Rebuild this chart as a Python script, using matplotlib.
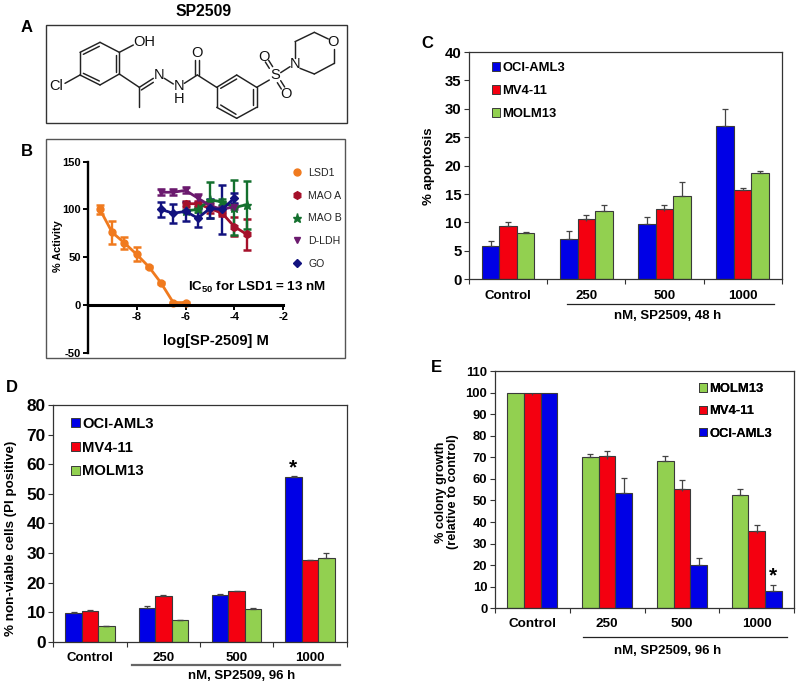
import matplotlib
matplotlib.use("Agg")
import matplotlib.pyplot as plt
from matplotlib.patches import Patch, Rectangle
from matplotlib.lines import Line2D

plt.rcParams['font.family'] = ['Liberation Sans', 'DejaVu Sans']
plt.rcParams['mathtext.fontset'] = 'custom'
plt.rcParams['mathtext.bf'] = 'Liberation Sans:bold'
plt.rcParams['mathtext.rm'] = 'Liberation Sans'
plt.rcParams['axes.unicode_minus'] = False

# ---------- data ----------
groups = ["Control", "250", "500", "1000"]

c_oci = [5.8, 7.1, 9.8, 27.0]
c_oci_err = [1.0, 1.4, 1.1, 3.0]
c_mv4 = [9.3, 10.6, 12.4, 15.8]
c_mv4_err = [0.7, 0.8, 0.7, 0.2]
c_mv4_low = [0, 0.4, 0.4, 0]
c_mol = [8.2, 12.1, 14.7, 18.7]
c_mol_err = [0.2, 1.0, 2.5, 0.4]

d_oci = [9.8, 11.5, 15.8, 55.5]
d_oci_err = [0.4, 0.7, 0.3, 0.5]
d_mv4 = [10.5, 15.6, 17.0, 27.5]
d_mv4_err = [0.1, 0.1, 0.1, 0.1]
d_mol = [5.2, 7.3, 11.2, 28.4]
d_mol_err = [0.2, 0.2, 0.1, 1.5]

e_mol = [100, 70.0, 68.5, 52.3]
e_mol_err = [0, 1.3, 2.0, 2.8]
e_mv4 = [100, 70.5, 55.5, 36.0]
e_mv4_err = [0, 2.3, 4.0, 2.7]
e_mv4_low = [1.3, 1.2, 1.2, 1.2]
e_oci = [100, 53.3, 20.0, 8.2]
e_oci_err = [0, 7.0, 3.5, 2.5]

lsd1_x = [-9.5, -9, -8.5, -8, -7.5, -7, -6.5, -6]
lsd1_y = [100, 76, 65, 53, 40, 23, 2.5, 2.5]
lsd1_e = [5, 12, 6, 7.5, 1, 1, 1, 1]
maoa_x = [-6, -5.5, -5, -4.5, -4, -3.5]
maoa_y = [106, 106, 101, 96, 82, 74]
maoa_e = [3, 3, 5, 3, 10, 16]
maob_x = [-6, -5.5, -5, -4.5, -4, -3.5]
maob_y = [98.5, 100, 110, 108, 102, 105]
maob_e = [1, 3, 19, 3, 29, 25]
dldh_x = [-7, -6.5, -6, -5.5, -5, -4.5, -4]
dldh_y = [118, 118, 120, 112, 104, 100, 103]
dldh_e = [3, 3, 3, 4, 4, 4, 3]
go_x = [-7, -6.5, -6, -5.5, -5, -4.5, -4]
go_y = [100, 96, 98, 91, 101, 100, 112]
go_e = [8, 10, 10, 9, 10, 26, 5]

BLUE, RED, GREEN = "#0000e6", "#f40010", "#92d050"
EDGE = "#3a3a3a"

W, H = 800, 687
fig = plt.figure(figsize=(W / 100, H / 100), dpi=100, facecolor="white")


def ax_px(l, t, r, b, **kw):
    return fig.add_axes([l / W, 1 - b / H, (r - l) / W, (b - t) / H], **kw)


ov = fig.add_axes([0, 0, 1, 1], zorder=10)
ov.set_xlim(0, W)
ov.set_ylim(H, 0)
ov.axis("off")
ov.patch.set_alpha(0)


def label(x, y, s, size=9.5, weight="bold", ha="center", va="center", **kw):
    ov.text(x, y, s, fontsize=size, fontweight=weight, ha=ha, va=va, **kw)


# ---------- panel letters ----------
label(204, 11, "SP2509", 11.3)
for s, x, y in [("A", 27, 27), ("B", 27, 152), ("C", 427, 44), ("D", 12, 387), ("E", 436, 368)]:
    label(x, y, s, 12)

# ---------- panel A: structure (zoomed pixel positions / 3) ----------
ov.add_patch(Rectangle((46, 25), 301, 98, fc="none", ec="#333333", lw=1))
ov.add_patch(Rectangle((46, 139), 299, 219, fc="none", ec="#555555", lw=1))

bonds = [
    # ring 1
    ((240, 157), (300, 127)), ((300, 127), (358, 157)), ((358, 157), (358, 222)),
    ((358, 222), (300, 255)), ((300, 255), (240, 225)), ((240, 225), (240, 157)),
    ((250, 163), (298, 139)), ((347, 165), (347, 215)), ((298, 243), (250, 220)),
    ((358, 157), (400, 135)), ((240, 225), (195, 250)),
    # hydrazone
    ((358, 222), (418, 262)), ((418, 262), (418, 322)),
    ((418, 262), (460, 235)), ((424, 270), (460, 247)),
    ((493, 235), (520, 252)), ((553, 250), (592, 225)),
    # carbonyl
    ((586, 225), (586, 180)), ((598, 225), (598, 180)),
    ((592, 225), (650, 262)),
    # ring 2
    ((650, 262), (710, 225)), ((710, 225), (770, 262)), ((770, 262), (770, 322)),
    ((770, 322), (710, 355)), ((710, 355), (650, 322)), ((650, 322), (650, 262)),
    ((662, 265), (710, 237)), ((758, 315), (758, 268)), ((708, 343), (662, 315)),
    # sulfonyl
    ((770, 262), (808, 240)), ((808, 205), (796, 186)), ((818, 200), (806, 181)),
    ((832, 248), (844, 267)), ((842, 242), (854, 261)), ((842, 218), (870, 200)),
    # morpholine
    ((885, 175), (885, 125)), ((885, 125), (943, 97)), ((943, 97), (985, 117)),
    ((1003, 147), (1003, 190)), ((1003, 190), (943, 222)), ((943, 222), (900, 205)),
]
for (x0, y0), (x1, y1) in bonds:
    ov.plot([x0 / 3, x1 / 3], [y0 / 3, y1 / 3], color="#222222", lw=1.05, solid_capstyle="round")
atoms = [("OH", 433, 127), ("Cl", 168, 258), ("N", 478, 225), ("N", 537, 258), ("H", 537, 297),
         ("O", 592, 160), ("S", 825, 225), ("O", 792, 170), ("O", 858, 283), ("N", 885, 192),
         ("O", 1000, 127)]
for s, x, y in atoms:
    label(x / 3, y / 3, s, 10.5, "normal", color="#111111")

# ---------- panel B ----------
axb = ax_px(87.7, 161.7, 283.3, 352.7)
axb.set_xlim(-10, -2)
axb.set_ylim(-50, 150)
axb.patch.set_alpha(0)
for s in ("top", "right"):
    axb.spines[s].set_visible(False)
axb.spines["bottom"].set_position(("data", 0))
axb.spines["bottom"].set_linewidth(2.2)
axb.spines["left"].set_linewidth(1.7)
axb.set_xticks([-8, -6, -4, -2])
axb.set_yticks([-50, 0, 50, 100, 150])
axb.tick_params(width=1.4, length=3.5, labelsize=8, pad=1.5)
for t in axb.get_xticklabels() + axb.get_yticklabels():
    t.set_fontweight("bold")
series_b = [
    ("LSD1", lsd1_x, lsd1_y, lsd1_e, "#f07a1e", "o", 5),
    ("MAO A", maoa_x, maoa_y, maoa_e, "#a5102a", "h", 5.5),
    ("MAO B", maob_x, maob_y, maob_e, "#14702e", "*", 6.5),
    ("D-LDH", dldh_x, dldh_y, dldh_e, "#6b1a6e", "v", 5),
    ("GO", go_x, go_y, go_e, "#12127f", "D", 4.5),
]
handles_b = []
for name, x, y, e, col, m, ms in series_b:
    axb.errorbar(x, y, yerr=e, color=col, marker=m, ms=ms, lw=2, capsize=3, capthick=1.8, elinewidth=1.7)
    handles_b.append(Line2D([], [], color=col, marker=m, ms=ms, ls="none", label=name))
legb = ov.legend(handles=handles_b, loc="upper left", bbox_to_anchor=(292, 168), bbox_transform=ov.transData,
                 frameon=False, fontsize=7.6, handlelength=1, handletextpad=0.55, borderpad=0, borderaxespad=0,
                 labelspacing=1.2, numpoints=1, labelcolor="#222222")
ov.add_artist(legb)
label(215.7, 340.7, "log[SP-2509] M", 10.6)
label(58, 245.7, "% Activity", 7.8, rotation=90)
label(188, 287, r"IC$_{\mathbf{50}}$ for LSD1 = 13 nM", 9.6, ha="left")


# ---------- bar panels ----------
def bars(ax, vals, errs, colors, ymax, step, ticksize, lows=None):
    n = len(groups)
    ax.set_xlim(0, n)
    ax.set_ylim(0, ymax)
    w = 0.224
    lows = lows or {}
    for k, (v, e, c) in enumerate(zip(vals, errs, colors)):
        xs = [i + 0.5 + (k - 1) * w for i in range(n)]
        ax.bar(xs, v, w, color=c, edgecolor=EDGE, lw=0.8, zorder=2)
        keep = [j for j in range(n) if e[j] > 0]
        ax.errorbar([xs[j] for j in keep], [v[j] for j in keep], yerr=[[0] * len(keep), [e[j] for j in keep]],
                    fmt="none", ecolor="#444444", elinewidth=0.9, capsize=2.2, capthick=0.9, zorder=3)
        if k in lows:
            ax.vlines(xs, [a - b for a, b in zip(v, lows[k])], v, color="#444444", lw=0.9, zorder=3)
    ax.set_xticks(range(n + 1))
    ax.set_xticklabels([])
    ax.set_yticks(range(0, ymax + 1, step))
    ax.tick_params(axis="x", length=3.5, width=0.8, color="#333333")
    ax.tick_params(axis="y", length=3.5, width=0.8, color="#333333", labelsize=ticksize, pad=2)
    for t in ax.get_yticklabels():
        t.set_fontweight("bold")
    for s in ax.spines.values():
        s.set_linewidth(0.9)
        s.set_color("#333333")


def bar_legend(names, colors, x, y, fs, spacing):
    h = [Patch(fc=c, ec=EDGE, lw=0.7, label=n) for n, c in zip(names, colors)]
    leg = ov.legend(handles=h, loc="upper left", bbox_to_anchor=(x, y), bbox_transform=ov.transData, frameon=False,
                    handlelength=0.6, handleheight=0.6, handletextpad=0.18, borderpad=0,
                    borderaxespad=0, labelspacing=spacing, prop={"weight": "bold", "size": fs,
                                                                 "family": "Liberation Sans"})
    ov.add_artist(leg)


# C
axc = ax_px(469, 52, 781.7, 279.3)
bars(axc, [c_oci, c_mv4, c_mol], [c_oci_err, c_mv4_err, c_mol_err], [BLUE, RED, GREEN], 40, 5, 10.8, {1: c_mv4_low})
bar_legend(["OCI-AML3", "MV4-11", "MOLM13"], [BLUE, RED, GREEN], 492, 62, 9.4, 0.85)
for i, g in enumerate(groups):
    label(469 + (i + 0.5) * 78.2, 296, g, 9.5)
ov.plot([566.7, 774], [304, 304], color="#222222", lw=0.9)
label(668, 316, "nM, SP2509, 48 h", 9.5)
label(429, 166, "% apoptosis", 9.5, rotation=90)

# D
axd = ax_px(53.3, 405, 346.7, 641.7)
bars(axd, [d_oci, d_mv4, d_mol], [d_oci_err, d_mv4_err, d_mol_err], [BLUE, RED, GREEN], 80, 10, 12.4)
bar_legend(["OCI-AML3", "MV4-11", "MOLM13"], [BLUE, RED, GREEN], 71, 417, 10.6, 0.66)
for i, g in enumerate(groups):
    label(53.3 + (i + 0.5) * 73.35, 658, g, 9.5)
ov.plot([132, 340], [665, 665], color="#666666", lw=1.6)
label(241.7, 676, "nM, SP2509, 96 h", 9.5)
label(11, 538, "% non-viable cells (PI positive)", 9.6, rotation=90)
label(293, 468, "*", 15)

# E
axe = ax_px(495, 371, 794, 608.3)
bars(axe, [e_mol, e_mv4, e_oci], [e_mol_err, e_mv4_err, e_oci_err], [GREEN, RED, BLUE], 110, 10, 9.4, {1: e_mv4_low})
bar_legend(["MOLM13", "MV4-11", "OCI-AML3"], [GREEN, RED, BLUE], 699, 383, 9.4, 0.8)
for i, g in enumerate(groups):
    label(495 + (i + 0.5) * 74.75, 624, g, 9.7)
ov.plot([583, 787], [637, 637], color="#222222", lw=0.9)
label(668, 651, "nM, SP2509, 96 h", 9.5)
label(447, 492, "% colony growth\n(relative to control)", 9.1, rotation=90, linespacing=1.1)
label(773, 576, "*", 15)

fig.savefig("out.png", dpi=100)
